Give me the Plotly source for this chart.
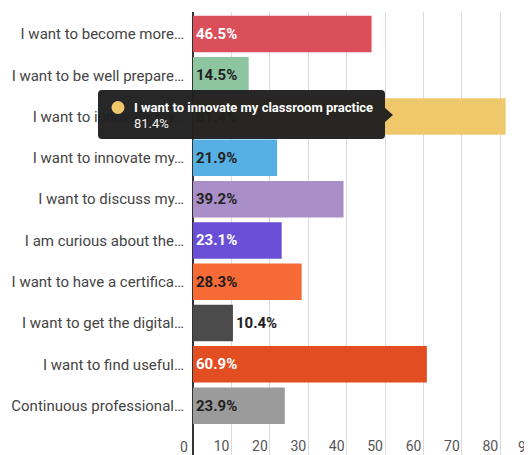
import plotly.graph_objects as go

categories = [
    "I want to become more…",
    "I want to be well prepare…",
    "I want to innovate my…",
    "I want to innovate my…",
    "I want to discuss my…",
    "I am curious about the…",
    "I want to have a certifica…",
    "I want to get the digital…",
    "I want to find useful…",
    "Continuous professional…",
]
values = [46.5, 14.5, 81.4, 21.9, 39.2, 23.1, 28.3, 10.4, 60.9, 23.9]
colors = ["#db4f5b", "#8ec5a1", "#efc86b", "#56b0e4", "#a98ec7",
          "#6a4fd6", "#f66a36", "#4b4b4b", "#e24d22", "#9b9b9b"]
text_colors = ["#ffffff", "#222222", "#222222", "#222222", "#222222",
               "#ffffff", "#1a1a1a", "#222222", "#ffffff", "#222222"]
text_pos = ["inside", "inside", "inside", "inside", "inside",
            "inside", "inside", "outside", "inside", "inside"]
x_ticks = [0, 10, 20, 30, 40, 50, 60, 70, 80]
tooltip_title = "I want to innovate my classroom practice"
tooltip_value = "81.4%"

# page is 532x455; the HTML body has an 8px margin
OFF = 8
W, H = 532 - OFF, 455 - OFF
L, R, T, B = 193 - OFF, 0, 12 - OFF, 0
pw, ph = W - L - R, H - T - B
px_per_unit = 3.84
xmax = pw / px_per_unit
band = 41.3
top_off = 1.3 / band
y_top = -0.5 - top_off
y_bottom = y_top + ph / band

def px(x):  # page pixel -> paper
    return (x - OFF - L) / pw

def py(y):
    return 1 - (y - OFF - T) / ph

fig = go.Figure()
fig.add_trace(go.Bar(
    y=list(range(len(categories))),
    x=values,
    orientation="h",
    marker=dict(color=colors, line=dict(width=0)),
    text=[f"{v}%" for v in values],
    textposition=text_pos,
    insidetextanchor="start",
    textfont=dict(family="Roboto", size=15, color=text_colors, weight="bold"),
    outsidetextfont=dict(family="Roboto", size=15, color=text_colors, weight="bold"),
    cliponaxis=False,
    hoverinfo="skip",
))

# tooltip overlay (pixel layout)
bx0, bx1, by0, by1, r = 98, 385, 90, 139, 4
tipx, tipy = 393, 115
path = (
    f"M {px(bx0 + r)},{py(by0)} L {px(bx1 - r)},{py(by0)} "
    f"Q {px(bx1)},{py(by0)} {px(bx1)},{py(by0 + r)} "
    f"L {px(bx1)},{py(tipy - 7)} L {px(tipx)},{py(tipy)} L {px(bx1)},{py(tipy + 7)} "
    f"L {px(bx1)},{py(by1 - r)} Q {px(bx1)},{py(by1)} {px(bx1 - r)},{py(by1)} "
    f"L {px(bx0 + r)},{py(by1)} Q {px(bx0)},{py(by1)} {px(bx0)},{py(by1 - r)} "
    f"L {px(bx0)},{py(by0 + r)} Q {px(bx0)},{py(by0)} {px(bx0 + r)},{py(by0)} Z"
)
shapes = [
    dict(type="path", xref="paper", yref="paper", path=path,
         fillcolor="rgba(32,32,32,0.97)", line=dict(width=0), layer="above"),
    dict(type="circle", xref="paper", yref="paper",
         x0=px(111.5), x1=px(124.5), y0=py(101), y1=py(114),
         fillcolor="#efc86b", line=dict(width=0), layer="above"),
]
tick_font = dict(family="Roboto", size=14, color="#555555")
annotations = [
    dict(xref="paper", yref="paper", x=px(132), y=py(107.5), text=f"<b>{tooltip_title}</b>",
         showarrow=False, xanchor="left", yanchor="middle",
         font=dict(family="Roboto", size=13, color="#ffffff")),
    dict(xref="paper", yref="paper", x=px(132), y=py(123.5), text=tooltip_value,
         showarrow=False, xanchor="left", yanchor="middle",
         font=dict(family="Roboto", size=13, color="#f0f0f0")),
    # tick labels that fall outside the plotted range
    dict(xref="paper", yref="paper", x=0, xshift=-3, y=0, yshift=-2, text="0",
         showarrow=False, xanchor="right", yanchor="bottom", font=tick_font),
    dict(xref="paper", yref="paper", x=90 / xmax, xshift=-3, y=0, yshift=-2, text="90",
         showarrow=False, xanchor="right", yanchor="bottom", font=tick_font),
]

fig.update_layout(
    width=W, height=H,
    margin=dict(l=L, r=R, t=T, b=B, pad=0, autoexpand=False),
    paper_bgcolor="white", plot_bgcolor="white",
    showlegend=False,
    bargap=0.116,
    shapes=shapes,
    annotations=annotations,
    font=dict(family="Roboto"),
)
fig.update_xaxes(
    range=[0, xmax],
    tickvals=x_ticks[1:],
    ticktext=[str(t) for t in x_ticks[1:]],
    showgrid=True, gridcolor="#dcdcdc", gridwidth=1,
    zeroline=True, zerolinecolor="#333333", zerolinewidth=1.5,
    ticklabelposition="inside left",
    ticklabelstandoff=-5,
    ticklabelshift=-2,
    tickfont=tick_font,
    showline=False, fixedrange=True, automargin=False,
)
fig.update_yaxes(
    range=[y_bottom, y_top],
    tickvals=list(range(len(categories))),
    ticktext=categories,
    showgrid=False, zeroline=False,
    ticks="outside", ticklen=5, tickcolor="rgba(0,0,0,0)",
    tickfont=dict(family="Roboto", size=15, color="#444444"),
    fixedrange=True, automargin=False,
)

fig.write_html("out.html", config={"displayModeBar": False})
